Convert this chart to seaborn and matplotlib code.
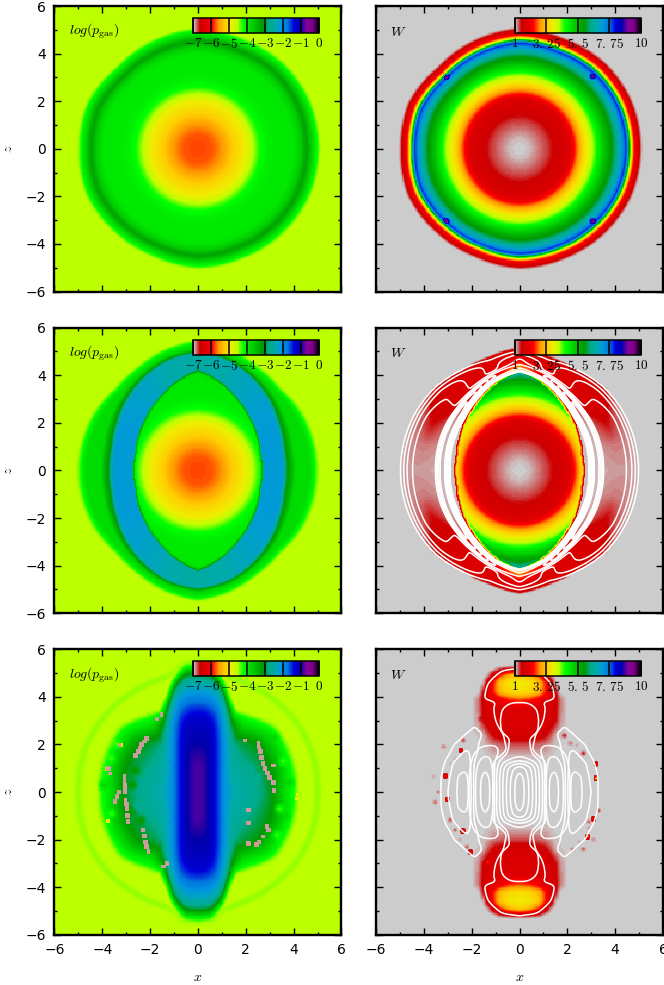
import numpy as np
import matplotlib
matplotlib.use("Agg")
import matplotlib.pyplot as plt
import seaborn as sns

# ---------- values ----------
ANGLES = [0, 15, 30, 45, 60, 75, 90]
TICKS = [-6, -4, -2, 0, 2, 4, 6]
MINOR = [-5, -3, -1, 1, 3, 5]
LOGP_TICKS = [-7, -6, -5, -4, -3, -2, -1, 0]
LOGP_LABELS = ["$-7$", "$-6$", "$-5$", "$-4$", "$-3$", "$-2$", "$-1$", "$0$"]
W_TICKS = [1, 3.25, 5.5, 7.75, 10]
W_LABELS = ["$1$", r"$3.\,25$", r"$5.\,5$", r"$7.\,75$", "$10$"]

# blast-wave outline radius, every 22.5 degrees, relative to 5
OUTLINE_ANGLE = [0, 22.5, 45, 67.5, 90, 112.5, 135, 157.5, 180, 202.5, 225, 247.5, 270, 292.5, 315, 337.5, 360]
OUTLINE_SCALE = [1.0, 1.004, 1.0, .982, .996, .97, .952, .99, .98, .996, .974, .966, .99, .982, .99, 1.0, 1.0]

# radial profiles of the initial blast
P1_R = [0, .6, 1.0, 1.5, 2.0, 2.3, 2.6, 3.0, 4.0, 4.3, 4.55, 4.75, 5.0, 5.1]
P1_V = [-5.8, -5.75, -5.6, -5.2, -4.9, -4.55, -4.2, -4.0, -3.95, -3.7, -3.2, -3.7, -4.2, -4.55]
W1_R = [0, .4, .8, 1.2, 1.45, 2.1, 2.3, 2.5, 2.82, 3.05, 3.3, 3.65, 3.93, 4.2, 4.35, 4.5, 4.57, 4.66, 4.77, 4.98, 5.12]
W1_V = [1, 1.05, 1.2, 1.35, 1.5, 1.9, 2.4, 2.9, 3.7, 4.15, 4.8, 5.6, 6.1, 6.9, 7.6, 8.3, 6, 3.7, 2.4, 1.7, 1]
W1_DOT_X = [3.05, -3.05, 3.05, -3.05]
W1_DOT_Z = [3.04, 3.04, -3.04, -3.04]

# lens (inner cavity) radius against angle
LENS_R = [2.68, 2.7, 2.86, 3.08, 3.38, 3.78, 4.18]

# log p outside the lens in the middle row
P2_LEVELS = [-2.15, -2.15, -3.1, -3.5, -3.85, -3.85, -4.2, -4.55]
P2_RADII = [
    [3.55, 3.72, 3.95, 4.05, 4.70, 4.90, 5.05],
    [3.60, 3.75, 3.98, 4.10, 4.70, 4.90, 5.05],
    [3.80, 3.95, 4.15, 4.25, 4.70, 4.88, 5.02],
    [4.10, 4.25, 4.40, 4.47, 4.65, 4.80, 4.92],
    [4.40, 4.55, 4.65, 4.70, 4.80, 4.95, 5.05],
    [4.70, 4.83, 4.90, 4.95, 5.05, 5.20, 5.30],
    [4.85, 5.00, 5.05, 5.10, 5.25, 5.40, 5.50],
]
P2_BAND_SHIFT = [0, 0, 0, -.05, -.15, -.3, -.4]

# W outside the lens in the middle row: rows angle, columns fraction lens->edge
W2_EDGE = [5.0, 5.0, 5.0, 5.0, 4.85, 4.95, 5.17]
W2_S = [0, .2, .4, .6, .8, .95, 1]
W2_T = [
    [1.05, 1.05, 1.10, 1.12, 1.13, 1.10, 1.0],
    [1.05, 1.05, 1.15, 1.20, 1.18, 1.10, 1.0],
    [1.05, 1.05, 1.30, 1.50, 1.30, 1.15, 1.0],
    [1.10, 1.20, 1.60, 1.80, 1.65, 1.50, 1.0],
    [1.50, 1.80, 1.90, 1.90, 1.90, 1.80, 1.0],
    [2.40, 2.30, 2.00, 1.90, 1.90, 1.80, 1.0],
    [3.00, 2.80, 2.40, 2.00, 1.90, 1.70, 1.0],
]

# contour quantity of the middle row
C2_IN = [3.0, 3.05, 3.15, 3.3, 3.6, 4.0, 4.25]
C2_OUT = [5.02, 5.02, 5.02, 5.0, 4.9, 4.85, 5.05]
C2_S = [0, .03, .16, .23, .3, .6, .743, .84, .90, .98, 1]
C2_T = [
    [0, 2.0, 2.0, .68, .68, .68, .55, .30, .15, .05, 0],
    [0, 2.0, 2.0, .68, .68, .68, .55, .30, .15, .05, 0],
    [0, 2.0, 2.0, .66, .68, .68, .55, .30, .15, .05, 0],
    [0, 2.0, 2.0, .60, .55, .55, .45, .27, .14, .05, 0],
    [0, 1.8, 1.8, .35, .27, .27, .25, .20, .12, .05, 0],
    [0, 1.2, 1.2, .25, .10, .10, .10, .09, .07, .04, 0],
    [0, .80, .80, .60, .40, .30, .20, .12, .08, .04, 0],
]
C2_LEVELS = [.05, .15, .30, .55, .8, 1.0, 1.25, 1.5, 1.75]

# log p of the bottom row
P3_ANGLES = [0, 20, 40, 55, 65, 72, 78, 84, 90]
P3_LEVELS = [-.9, -1.3, -1.75, -2.1, -2.45, -2.8, -3.15, -3.85, -4.2, -4.55, -4.55, -4.42, -4.55]
P3_RADII = [
    [.25, .62, .95, 1.12, 1.60, 2.60, 3.15, 3.60, 4.00, 4.20, 4.85, 5.00, 5.15],
    [.27, .66, 1.01, 1.19, 1.45, 2.40, 3.20, 3.80, 4.05, 4.25, 4.90, 5.05, 5.20],
    [.33, .81, 1.24, 1.46, 1.70, 2.30, 3.20, 3.80, 4.10, 4.30, 4.90, 5.05, 5.20],
    [.44, 1.08, 1.66, 1.95, 2.27, 2.53, 2.85, 3.40, 3.75, 3.95, 4.85, 5.00, 5.15],
    [.59, 1.47, 2.25, 2.60, 2.90, 3.10, 3.35, 3.55, 3.68, 3.75, 4.85, 5.00, 5.15],
    [.81, 2.00, 3.00, 3.30, 3.55, 3.80, 3.95, 4.05, 4.15, 4.20, 4.85, 5.00, 5.15],
    [1.20, 2.80, 3.60, 3.90, 4.20, 4.40, 4.60, 4.75, 4.80, 4.85, 5.00, 5.08, 5.20],
    [1.28, 3.15, 3.77, 4.17, 4.52, 4.77, 4.97, 5.20, 5.30, 5.40, 5.45, 5.50, 5.58],
    [1.30, 3.20, 3.80, 4.20, 4.55, 4.80, 5.00, 5.20, 5.35, 5.50, 5.52, 5.55, 5.60],
]
P3_BLOT_X = [-2.6, -2.8, -2.4, -2.7, -2.4, -2.2, -2.5, 2.2, 2.5, 2.2, -3.6, -3.4, -3.6, 3.55, 3.3, 3.4, -3.95, 3.85, 3.7, -3.4, 3.2]
P3_BLOT_Z = [.9, -.8, -1.2, .3, .3, -.3, -.6, 1.0, .6, .2, -.9, 2.0, 1.4, 1.3, -1.8, -.7, .3, .4, -1.0, -1.6, 2.3]
P3_BLOT_V = [-3.2, -3.2, -3.2, -3.2, -2.7, -2.7, -2.7, -2.7, -2.7, -2.7, -4.3, -4.3, -4.3, -4.3, -4.3, -4.3, -3.8, -3.8, -3.8, -3.8, -3.8]
P3_DOT_X = [-3.82, -3.2, -3.77, 4.13, 4.15]
P3_DOT_Z = [.99, 1.98, -1.24, -.26, -.1]
P3_DOT_V = [-5.2, -5.0, -4.9, -4.9, -4.9]
P3_SPECK_X = [-3.08, -3.07, -3.06, -3.05, -3.05, -3.03, -3.0, -2.97, -2.95, -2.92, -3.47, -3.38, -3.3, -2.29, -2.24, -2.2, -2.14, -2.08,
              -2.6, -2.5, -2.42, -2.35, -2.25, -2.15, -1.73, -1.52, -1.45, -1.3, -3.75, -3.68, -3.27,
              2.52, 2.56, 2.6, 2.66, 2.73, 2.8, 2.9, 3.0, 3.15, 3.17, 1.97, 2.1, 2.45, 2.55, 2.73, 2.95, 2.1, 2.1, 2.87, 3.15]
P3_SPECK_Z = [.64, .45, .3, .12, -.03, -.33, -.5, -.7, -1.0, -1.25, -.4, -.2, 0, -1.6, -1.85, -2.1, -2.3, -2.5,
              1.55, 1.7, 1.85, 2.0, 2.12, 2.25, 3.08, 3.26, -3.12, -3.0, 1.0, .78, 1.97,
              2.04, 1.87, 1.7, 1.45, 1.2, 1.0, .8, .6, .4, .05, 2.18, -2.15, -2.2, -2.1, -1.87, -1.6, -.75, -1.3, -1.45, 1.13]

# W of the bottom row on a (|x|, |z|) table
W3_X = [0, .4, .8, 1.1, 1.3, 1.5, 1.7, 2.0, 2.5]
W3_Z = [0, 1, 1.5, 2.0, 2.4, 3.0, 3.5, 3.9, 4.2, 4.6, 4.9, 5.15, 5.3]
W3_T = [
    [1, 1, 1, 1, 1, 1, 1, 1, 1],
    [1, 1, 1, 1, 1, 1, 1, 1, 1],
    [1.05, 1.05, 1.04, 1.05, 1.04, 1.02, 1.01, 1, 1],
    [1.3, 1.3, 1.25, 1.2, 1.1, 1.05, 1.03, 1.02, 1.01],
    [1.7, 1.7, 1.6, 1.5, 1.3, 1.08, 1.04, 1.02, 1.01],
    [1.9, 1.9, 1.85, 1.8, 1.7, 1.5, 1.15, 1.02, 1],
    [1.9, 1.9, 1.85, 1.85, 1.75, 1.55, 1.2, 1, 1],
    [2.6, 2.5, 2.2, 1.9, 1.85, 1.6, 1.2, 1, 1],
    [3.5, 3.4, 3.1, 2.4, 1.9, 1.5, 1, 1, 1],
    [3.7, 3.6, 3.2, 2.4, 1.8, 1.05, 1, 1, 1],
    [3.3, 3.1, 2.5, 1.8, 1.1, 1, 1, 1, 1],
    [1.9, 1.7, 1.4, 1, 1, 1, 1, 1, 1],
    [1, 1, 1, 1, 1, 1, 1, 1, 1],
]
W3_SPECK_X = [-2.45, -2.34, -3.18, -3.6, -3.1, -3.39, -3.53, -3.0, -2.9, -2.69, -2.37, -2.2, -2.04, -1.32, -1.65,
              1.87, 2.12, 2.68, 3.2, 3.2, 3.3, 3.1, 2.86, 2.89, 2.68, 2.19, 3.1, -2.7, -2.5, 2.4, 2.9, 2.5, -2.9]
W3_SPECK_Z = [1.76, 2.18, 1.9, .64, .68, 0, -.43, -.29, -1.17, -1.59, -1.62, -2.29, -2.52, -2.96, 3.08,
              2.38, 2.04, 1.62, 1.17, .57, -.78, -1.13, -1.87, -1.24, -2.4, -2.4, -2.0, 1.4, -2.0, 1.95, -1.5, -2.1, 1.2]
W3_SPECK_V = [3.2, 1.5, 1.3, 1.2, 2.9, 1.4, 1.3, 4.5, 1.4, 1.5, 2.9, 1.5, 2.9, 2.9, 1.5,
              1.5, 1.3, 1.5, 2.9, 4.5, 1.5, 2.9, 3.4, 1.5, 1.4, 1.3, 1.3, 1.2, 1.2, 1.2, 1.25, 1.2, 1.15]

# contour quantities of the bottom row
F3_X = [0, .2, .4, .55, .7, .84, .95, 1.05, 1.12, 1.18, 1.45, 1.67, 1.8, 2.1, 2.25, 3.0]
F3_Z = [0, .5, .9, 1.1, 1.3, 1.5, 1.8, 2.2, 2.6, 3.0, 3.4, 3.75, 4.2, 5.5]
F3_T = [
    [0, 1, 2, 3, 4, 5, 6, 6.8, 7.5, 8.5, 9, 8.5, 7.5, 6.8, 6.5, 6.5],
    [.3, 1.1, 2.1, 3.1, 4, 5, 6, 6.8, 7.5, 8.4, 8.9, 8.4, 7.5, 6.8, 6.5, 6.5],
    [1, 1.6, 2.5, 3.3, 4.2, 5.2, 6.1, 6.8, 7.4, 8.0, 8.6, 8.0, 7.4, 6.75, 6.5, 6.5],
    [2, 2.4, 3, 3.7, 4.6, 5.5, 6.3, 6.9, 7.3, 7.7, 8.52, 7.9, 7.2, 6.7, 6.5, 6.5],
    [4, 4.2, 4.6, 5, 5.5, 6, 6.5, 6.9, 7.2, 7.5, 7.9, 7.5, 7.1, 6.65, 6.5, 6.5],
    [5.2, 5.3, 5.6, 5.9, 6.2, 6.6, 6.9, 7.1, 7.3, 7.45, 7.5, 7.3, 7.0, 6.6, 6.5, 6.5],
    [5.5, 5.6, 5.85, 6.2, 6.5, 6.75, 6.9, 6.95, 7, 7, 6.95, 6.85, 6.7, 6.5, 6.5, 6.5],
    [5.5, 5.6, 6, 6.2, 6.4, 6.5, 6.5, 6.5, 6.5, 6.5, 6.5, 6.5, 6.5, 6.5, 6.5, 6.5],
    [5.5, 5.5, 5.6, 5.65, 5.85, 6.15, 6.5, 6.5, 6.5, 6.5, 6.5, 6.5, 6.5, 6.5, 6.5, 6.5],
    [5.4, 5.4, 5.5, 5.55, 5.75, 6.05, 6.5, 6.5, 6.5, 6.5, 6.5, 6.5, 6.5, 6.5, 6.5, 6.5],
    [5.5, 5.5, 5.6, 5.7, 5.9, 6.2, 6.5, 6.5, 6.5, 6.5, 6.5, 6.5, 6.5, 6.5, 6.5, 6.5],
    [6, 6, 6.05, 6.15, 6.3, 6.5, 6.5, 6.5, 6.5, 6.5, 6.5, 6.5, 6.5, 6.5, 6.5, 6.5],
    [6.5, 6.5, 6.5, 6.5, 6.5, 6.5, 6.5, 6.5, 6.5, 6.5, 6.5, 6.5, 6.5, 6.5, 6.5, 6.5],
    [6.5, 6.5, 6.5, 6.5, 6.5, 6.5, 6.5, 6.5, 6.5, 6.5, 6.5, 6.5, 6.5, 6.5, 6.5, 6.5],
]
F3_LEVELS = [1, 2, 3, 4, 5, 6, 6.8, 7.5, 8.5]
G3_X = [0, .5, 1, 1.35, 1.6, 1.9, 2.1, 2.3, 2.6, 2.8, 3.0, 3.2, 3.4, 3.7]
G3_Z = [0, .6, 1.2, 1.8, 2.4, 2.8, 3.1, 3.5, 3.8, 3.95, 4.5, 5, 5.25, 5.5]
G3_T = [
    [1, 1, .75, 0, 0, 0, 2.6, 3, 2.6, 2.0, 1.5, .9, 0, 0],
    [1, 1, .75, 0, 0, 0, 2.4, 2.9, 2.55, 1.8, 1.3, .8, 0, 0],
    [1, 1, .7, 0, 0, .3, 2.0, 2.1, 1.8, 1.5, .9, .3, 0, 0],
    [1, .55, 0, 0, .1, 1.0, 1.45, 1.45, 1.0, .6, 0, 0, 0, 0],
    [.9, .7, .1, 0, .6, .8, .7, .5, 0, 0, 0, 0, 0, 0],
    [1, 1, .4, 0, .2, .5, .2, 0, 0, 0, 0, 0, 0, 0],
    [1, 1, .55, 0, 0, 0, 0, 0, 0, 0, 0, 0, 0, 0],
    [1, 1, .65, 0, 0, 0, 0, 0, 0, 0, 0, 0, 0, 0],
    [1, 1, .5, .1, 0, 0, 0, 0, 0, 0, 0, 0, 0, 0],
    [1, 1, 1, .9, 0, 0, 0, 0, 0, 0, 0, 0, 0, 0],
    [1, 1, 1, .5, 0, 0, 0, 0, 0, 0, 0, 0, 0, 0],
    [1, 1, .35, 0, 0, 0, 0, 0, 0, 0, 0, 0, 0, 0],
    [.4, .1, 0, 0, 0, 0, 0, 0, 0, 0, 0, 0, 0, 0],
    [0, 0, 0, 0, 0, 0, 0, 0, 0, 0, 0, 0, 0, 0],
]
G3_LEVELS = [.5, 1.5, 2.5]

# ---------- grid and table look-ups ----------
N = 240
coord = -6 + (np.arange(N) + .5) * 12 / N
X, Z = np.meshgrid(coord, -coord)
R = np.hypot(X, Z)
TH = np.degrees(np.arctan2(np.abs(Z), np.abs(X)))
TH_FULL = np.degrees(np.arctan2(Z, X)) % 360
RS = R / (1 + (np.interp(TH_FULL, OUTLINE_ANGLE, OUTLINE_SCALE) - 1) * np.clip((R - 3) / 1.5, 0, 1))


def level_field(levels, radii, rad=R, angles=ANGLES):
    levels = np.asarray(levels, float)
    radii = np.asarray(radii, float)
    rk = np.stack([np.interp(TH, angles, radii[:, k]) for k in range(radii.shape[1])], axis=-1)
    rk = np.maximum.accumulate(rk, axis=-1)
    idx = np.clip((rad[..., None] >= rk).sum(-1), 1, len(levels) - 1)
    r0 = np.take_along_axis(rk, (idx - 1)[..., None], -1)[..., 0]
    r1 = np.take_along_axis(rk, idx[..., None], -1)[..., 0]
    t = np.clip((rad - r0) / np.maximum(r1 - r0, 1e-6), 0, 1)
    return levels[idx - 1] + t * (levels[idx] - levels[idx - 1])


def table_field(xq, yq, xs, ys, table):
    xs, ys, table = map(lambda a: np.asarray(a, float), (xs, ys, table))
    i = np.clip(np.searchsorted(xs, xq) - 1, 0, len(xs) - 2)
    j = np.clip(np.searchsorted(ys, yq) - 1, 0, len(ys) - 2)
    u = np.clip((xq - xs[i]) / (xs[i + 1] - xs[i]), 0, 1)
    v = np.clip((yq - ys[j]) / (ys[j + 1] - ys[j]), 0, 1)
    return (table[j, i] * (1 - u) * (1 - v) + table[j, i + 1] * u * (1 - v)
            + table[j + 1, i] * (1 - u) * v + table[j + 1, i + 1] * u * v)


def blur(a, k=3):
    w = np.ones(k) / k
    pad = k // 2 + k
    b = np.pad(a, pad, mode="edge")
    b = np.apply_along_axis(lambda m: np.convolve(m, w, mode="same"), 0, b)
    b = np.apply_along_axis(lambda m: np.convolve(m, w, mode="same"), 1, b)
    return b[pad:-pad, pad:-pad]


def paint(field, xs, zs, vals, half=.07):
    out = field.copy()
    vals = np.broadcast_to(vals, (len(xs),))
    for x, z, v in zip(xs, zs, vals):
        out[(np.abs(X - x) < half) & (np.abs(Z - z) < half)] = v
    return out


def clipped(profile_r):
    return np.minimum(np.tile(profile_r, (len(ANGLES), 1)), np.array(LENS_R)[:, None])


lens = np.interp(TH, ANGLES, LENS_R)

# ---------- fields ----------
p1 = blur(level_field(P1_V, np.tile(P1_R, (7, 1)), RS))
w1 = level_field(W1_V, np.tile(W1_R, (7, 1)), RS)
w1 = blur(paint(w1, W1_DOT_X, W1_DOT_Z, 9.6, .08))

p2_r = np.hstack([clipped(P1_R), np.array(LENS_R)[:, None] + .02, np.array(P2_RADII)])
p2 = level_field(P1_V + P2_LEVELS, p2_r)
band = (R > lens) & (R < np.interp(TH, ANGLES, np.array(P2_RADII)[:, 0]))
p2 = blur(p2 + band * np.interp(TH, ANGLES, P2_BAND_SHIFT))

s2 = np.clip((R - lens) / (np.interp(TH, ANGLES, W2_EDGE) - lens), 0, 1)
w2_out = table_field(s2, TH, W2_S, ANGLES, W2_T)
w2_out[R > np.interp(TH, ANGLES, W2_EDGE)] = 1
w2 = np.where(R < lens, level_field(W1_V, clipped(W1_R)), w2_out)
w2 = blur(w2)

c_in = np.interp(TH, ANGLES, C2_IN)
c_out = np.interp(TH, ANGLES, C2_OUT)
c2 = table_field(np.clip((R - c_in) / (c_out - c_in), 0, 1), TH, C2_S, ANGLES, C2_T)
c2 = blur(c2, 5)

p3 = level_field(P3_LEVELS, P3_RADII, angles=P3_ANGLES)
p3 = blur(paint(p3, P3_BLOT_X, P3_BLOT_Z, P3_BLOT_V, .16), 5)
p3 = paint(p3, P3_DOT_X, P3_DOT_Z, P3_DOT_V, .07)
p3 = paint(p3, P3_SPECK_X, P3_SPECK_Z, -6.9, .09)
w3 = table_field(np.abs(X), np.abs(Z), W3_X, W3_Z, W3_T)
w3 = blur(paint(w3, W3_SPECK_X, W3_SPECK_Z, W3_SPECK_V, .06))
f3 = blur(table_field(np.abs(X), np.abs(Z), F3_X, F3_Z, F3_T), 5)
g3 = blur(table_field(np.abs(X), np.abs(Z), G3_X, G3_Z, G3_T), 5)

# ---------- figure ----------
sns.set_theme(style="white")
plt.rcParams["mathtext.fontset"] = "cm"
plt.rcParams["font.family"] = "DejaVu Sans"

W_PX, H_PX = 664, 985
fig = plt.figure(figsize=(W_PX / 100, H_PX / 100), dpi=100)
LEFTS = [54.5, 376]
TOPS = [6, 327.7, 649.3]
SIZE_X, SIZE_Y = 287, 285.5
to_ix = lambda v: (np.asarray(v, float) + 6) / 12 * N
to_iz = lambda v: (6 - np.asarray(v, float)) / 12 * N
CX, CZ = to_ix(X), to_iz(Z)


def panel(row, col, field, label):
    ax = fig.add_axes([LEFTS[col] / W_PX, 1 - (TOPS[row] + SIZE_Y) / H_PX, SIZE_X / W_PX, SIZE_Y / H_PX])
    logp = col == 0
    sns.heatmap(field, ax=ax, cmap="nipy_spectral_r", vmin=-7 if logp else 1, vmax=0 if logp else 10,
                cbar=False, xticklabels=False, yticklabels=False, linewidths=0, rasterized=True)
    ax.set_axisbelow(False)
    for s in ax.spines.values():
        s.set_visible(True)
        s.set_linewidth(1.7)
        s.set_color("black")
    ax.set_xticks(to_ix(TICKS))
    ax.set_yticks(to_iz(TICKS))
    ax.set_xticks(to_ix(MINOR), minor=True)
    ax.set_yticks(to_iz(MINOR), minor=True)
    ax.set_xticklabels([str(t).replace("-", "\u2212") for t in TICKS] if row == 2 else [""] * len(TICKS), rotation=0)
    ax.set_yticklabels([str(t).replace("-", "\u2212") for t in TICKS] if col == 0 else [""] * len(TICKS), rotation=0)
    ax.tick_params(which="major", direction="in", top=True, right=True, bottom=True, left=True,
                   length=5, width=1, labelsize=10, pad=6, colors="black")
    ax.tick_params(which="minor", direction="in", top=True, right=True, bottom=True, left=True,
                   length=2.5, width=1, colors="black")
    if row == 2:
        ax.set_xlabel("$x$", fontsize=10, labelpad=9, color="black")
    if col == 0:
        ax.set_ylabel("$z$", fontsize=10, labelpad=8, color="black")
    ax.text(.05, .91, label, transform=ax.transAxes, fontsize=10, va="center", color="black")
    cax = ax.inset_axes([.483, .906, .44, .052])
    cb = fig.colorbar(ax.collections[0], cax=cax, orientation="horizontal")
    cb.set_ticks(LOGP_TICKS if logp else W_TICKS)
    cb.set_ticklabels(LOGP_LABELS if logp else W_LABELS)
    cb.ax.tick_params(direction="in", length=11, width=1.1, labelsize=9.5, pad=3, colors="black", bottom=True)
    cb.ax.set_axisbelow(False)
    cb.outline.set_linewidth(1.1)
    cb.outline.set_edgecolor("black")
    return ax


LOG_LABEL = r"$log(p_{\rm gas})$"
panel(0, 0, p1, LOG_LABEL)
panel(0, 1, w1, "$W$")
panel(1, 0, p2, LOG_LABEL)
a = panel(1, 1, w2, "$W$")
a.contour(CX, CZ, c2, levels=C2_LEVELS, colors="white", linewidths=1.1)
panel(2, 0, p3, LOG_LABEL)
a = panel(2, 1, w3, "$W$")
a.contour(CX, CZ, f3, levels=F3_LEVELS, colors="white", linewidths=1.1)
a.contour(CX, CZ, g3, levels=G3_LEVELS, colors="white", linewidths=1.1)

fig.savefig("out.png", dpi=100)
